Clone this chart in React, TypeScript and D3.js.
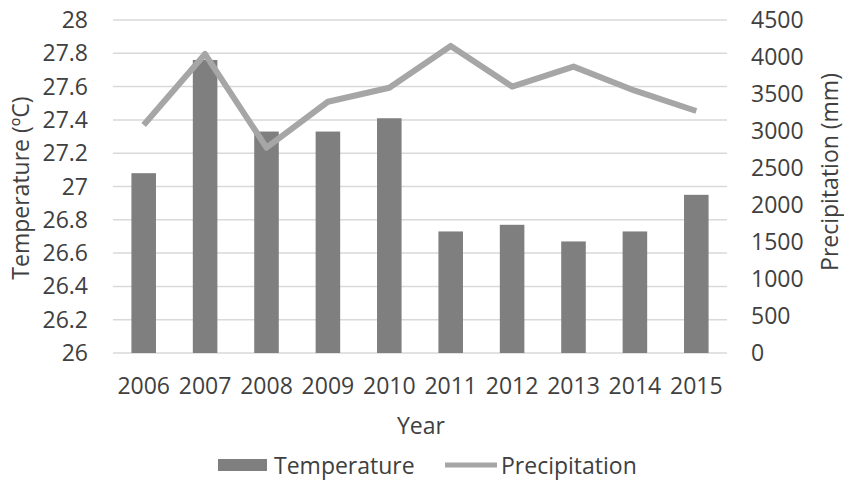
import React from "react";
import * as d3 from "d3";

const years = ["2006", "2007", "2008", "2009", "2010", "2011", "2012", "2013", "2014", "2015"];
const temperature = [27.08, 27.76, 27.33, 27.33, 27.41, 26.73, 26.77, 26.67, 26.73, 26.95];
const precipitation = [3080, 4040, 2775, 3395, 3585, 4150, 3600, 3870, 3545, 3270];
const tempTicks = [26, 26.2, 26.4, 26.6, 26.8, 27, 27.2, 27.4, 27.6, 27.8, 28];
const precipTicks = [0, 500, 1000, 1500, 2000, 2500, 3000, 3500, 4000, 4500];

const W = 844;
const H = 480;
const left = 113;
const right = 727;
const top = 20;
const bottom = 353;
const FONT = "'Open Sans', sans-serif";
const TEXT = "#404040";
const FS = 23;

export default function App() {
  const x = d3.scaleBand<string>().domain(years).range([left, right]).paddingInner(0.6).paddingOuter(0.3);
  const yT = d3.scaleLinear().domain([26, 28]).range([bottom, top]);
  const yP = d3.scaleLinear().domain([0, 4500]).range([bottom, top]);
  const cx = (yr: string) => (x(yr) as number) + x.bandwidth() / 2;
  const line = d3
    .line<number>()
    .x((_, i) => cx(years[i]))
    .y((d) => yP(d));

  return (
    <svg width={W} height={H} style={{ position: "absolute", left: 0, top: 0, background: "#fff" }} fontFamily={FONT}>
      {tempTicks.map((t) => (
        <g key={"g" + t}>
          <line x1={left} x2={right} y1={yT(t)} y2={yT(t)} stroke="#d9d9d9" strokeWidth={1.5} />
          <text x={88} y={yT(t)} dy="0.35em" textAnchor="end" fontSize={FS} fill={TEXT}>
            {String(t)}
          </text>
        </g>
      ))}
      {precipTicks.map((t) => (
        <text key={"p" + t} x={751} y={yP(t)} dy="0.35em" textAnchor="start" fontSize={FS} fill={TEXT}>
          {t}
        </text>
      ))}
      {years.map((yr, i) => (
        <rect
          key={"b" + yr}
          x={x(yr)}
          y={yT(temperature[i])}
          width={x.bandwidth()}
          height={bottom - yT(temperature[i])}
          fill="#7f7f7f"
        />
      ))}
      <path d={line(precipitation) || ""} fill="none" stroke="#a6a6a6" strokeWidth={6} strokeLinejoin="round" />
      {years.map((yr) => (
        <text key={"x" + yr} x={cx(yr)} y={386} dy="0.35em" textAnchor="middle" fontSize={FS} fill={TEXT}>
          {yr}
        </text>
      ))}
      <text x={421} y={426} dy="0.35em" textAnchor="middle" fontSize={FS} fill={TEXT}>
        Year
      </text>
      <text transform={`translate(21,188) rotate(-90)`} textAnchor="middle" dy="0.35em" fontSize={FS} fill={TEXT}>
        Temperature (ºC)
      </text>
      <text transform={`translate(830,172) rotate(-90)`} textAnchor="middle" dy="0.35em" fontSize={FS} fill={TEXT}>
        Precipitation (mm)
      </text>
      <rect x={218} y={459} width={49} height={12} fill="#7f7f7f" />
      <text x={274} y={466} dy="0.35em" fontSize={FS} fill={TEXT}>
        Temperature
      </text>
      <line x1={445} x2={497} y1={465} y2={465} stroke="#a6a6a6" strokeWidth={5} />
      <text x={501} y={466} dy="0.35em" fontSize={FS} fill={TEXT}>
        Precipitation
      </text>
    </svg>
  );
}
